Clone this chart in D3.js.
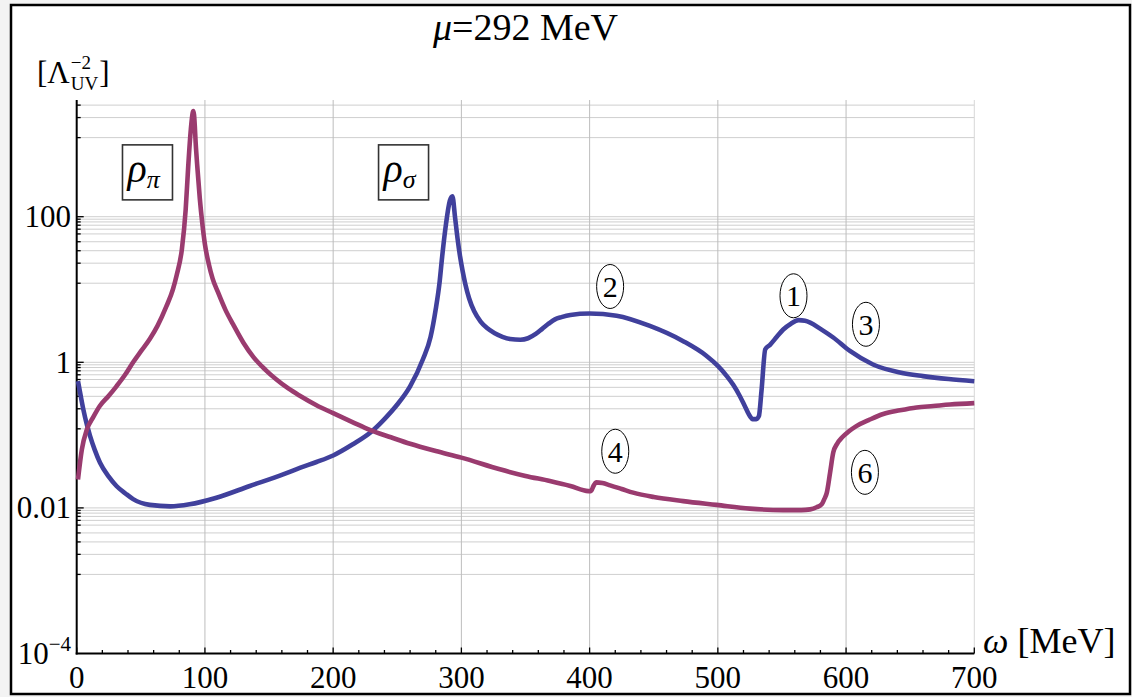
<!DOCTYPE html>
<html>
<head>
<meta charset="utf-8">
<script src="https://cdn.jsdelivr.net/npm/d3@7"></script>
<style>
  html, body { margin: 0; padding: 0; background: #f3f3f3; }
  svg { display: block; }
  text { font-family: "Liberation Serif", "DejaVu Serif", serif; fill: #000; }
</style>
</head>
<body>
<svg id="chart" width="1132" height="697"></svg>
<script>
// Spectral functions at mu = 292 MeV, in units of Lambda_UV^-2
const omegaPi = [1, 4, 8, 13, 18, 25, 31, 38, 44, 50, 57, 63, 70, 75, 78, 82, 85, 87, 89, 90.5, 91, 91.5, 93, 94, 96, 98, 100, 103, 106, 110, 116, 122, 130, 138, 147, 156, 165, 174, 187, 200, 215, 229, 245, 260, 280, 300, 330, 350, 369, 385, 399, 401, 403, 405, 410, 416, 425, 434, 450, 473, 499, 525, 551, 565, 572, 577, 581, 583, 585, 587.5, 590, 593, 597, 602, 608, 618, 629, 642, 655, 668, 681, 700];
const rhoPi = [0.0245, 0.063, 0.12, 0.178, 0.251, 0.347, 0.468, 0.684, 1.0, 1.41, 2.09, 3.16, 5.89, 10.0, 15.8, 35.5, 126, 501, 1585, 2692, 2818, 2512, 891, 501, 178, 79.4, 41.7, 22.4, 14.1, 9.33, 5.25, 3.31, 1.86, 1.17, 0.794, 0.575, 0.437, 0.347, 0.257, 0.2, 0.151, 0.117, 0.0933, 0.0759, 0.0603, 0.049, 0.0339, 0.0275, 0.0234, 0.02, 0.017, 0.017, 0.02, 0.0224, 0.0219, 0.0204, 0.0182, 0.0162, 0.0141, 0.0124, 0.011, 0.00977, 0.00933, 0.00933, 0.00955, 0.0102, 0.0112, 0.0132, 0.0162, 0.0302, 0.0575, 0.0759, 0.0933, 0.112, 0.133, 0.162, 0.195, 0.219, 0.24, 0.251, 0.263, 0.275];

const omegaSigma = [1, 3, 5.2, 8, 10.4, 14, 18.2, 25, 31, 38, 44, 57, 73, 88, 109, 135, 161, 174, 187, 200, 215, 230, 240, 250, 260, 270, 276, 280, 283, 285, 288, 291, 293, 295, 297, 299, 301, 303, 306, 310, 315, 320, 326, 332, 338, 346, 352, 358, 363, 368, 373, 378, 385, 400, 421, 447, 473, 491, 500, 507, 512, 517, 521, 525, 527, 530, 532, 534, 537, 540.7, 546, 551, 557, 563, 568, 572, 580, 590, 603, 621, 642, 660, 680, 700];
const rhoSigma = [0.55, 0.355, 0.224, 0.138, 0.0977, 0.0631, 0.0417, 0.0269, 0.02, 0.0158, 0.0132, 0.011, 0.0105, 0.0112, 0.0138, 0.02, 0.0288, 0.0355, 0.0427, 0.0525, 0.0741, 0.112, 0.166, 0.263, 0.468, 1.1, 2.24, 5.37, 12.6, 28.2, 79.4, 166, 191, 100, 50.1, 28.2, 17.8, 12.0, 7.59, 5.01, 3.63, 2.95, 2.51, 2.24, 2.09, 2.04, 2.14, 2.45, 2.88, 3.39, 3.89, 4.17, 4.47, 4.68, 4.37, 3.16, 1.95, 1.23, 0.891, 0.646, 0.49, 0.347, 0.251, 0.182, 0.166, 0.166, 0.182, 0.398, 1.51, 1.74, 2.24, 2.82, 3.39, 3.8, 3.72, 3.51, 2.88, 2.19, 1.43, 0.933, 0.724, 0.646, 0.589, 0.55];

// Axis ticks and gridlines
const xTicks = [0, 100, 200, 300, 400, 500, 600, 700];
const xMinorTicks = d3.range(0, 701, 20);
const xGridValues = [100, 200, 300, 400, 500, 600, 700];
const yMajorTicks = [100, 1, 0.01, 0.0001];
const yTickLabels = ["100", "1", "0.01", "10−4"];
const gridBandMajors = [10000, 100, 1, 0.01];
const gridBandFactors = [1, 0.924, 0.848, 0.764, 0.674, 0.58, 0.453, 0.341, 0.23, 0.122];

// Peak identifiers and numbered markers
const peakNames = [
  { base: "ρ", sub: "π", omega: 55.2, value: 400 },
  { base: "ρ", sub: "σ", omega: 254.9, value: 400 }
];
const markers = [
  { label: "1", omega: 559, value: 8.2 },
  { label: "2", omega: 416, value: 11 },
  { label: "3", omega: 615.5, value: 3.33 },
  { label: "4", omega: 420, value: 0.06 },
  { label: "6", omega: 614.7, value: 0.0308 }
];

const colorSigma = "#40409c";
const colorPi = "#9a3b6f";

const svg = d3.select("#chart");
const plot = { left: 76.7, right: 974.3, top: 100, bottom: 653.5 };

// frame
svg.append("rect").attr("x", 11).attr("y", 5).attr("width", 1119).attr("height", 689)
  .attr("fill", "#fff").attr("stroke", "#000").attr("stroke-width", 2.5);

const x = d3.scaleLinear().domain([0, 700]).range([plot.left, plot.right]);
const y = d3.scaleLog().domain([1e-4, 1e4]).range([plot.bottom, plot.bottom - 8 * 72.8]);

// horizontal gridlines
const gridY = [];
gridBandMajors.forEach(m => gridBandFactors.forEach(f => {
  const v = m * f;
  if (y(v) >= plot.top - 0.5 && y(v) < plot.bottom - 1) gridY.push(v);
}));
const grid = svg.append("g");
grid.selectAll("line.h").data(gridY).join("line")
  .attr("x1", plot.left).attr("x2", plot.right)
  .attr("y1", d => y(d)).attr("y2", d => y(d))
  .attr("stroke", "#cfcfcf").attr("stroke-width", 1);
grid.selectAll("line.v").data(xGridValues).join("line")
  .attr("x1", d => x(d)).attr("x2", d => x(d))
  .attr("y1", plot.top).attr("y2", plot.bottom)
  .attr("stroke", d => d === 700 ? "#d8d8d8" : "#bdbdbd").attr("stroke-width", 1);

// axes
const axes = svg.append("g");
axes.append("line").attr("x1", plot.left).attr("x2", plot.left)
  .attr("y1", plot.top).attr("y2", plot.bottom + 1).attr("stroke", "#000").attr("stroke-width", 2);
axes.append("line").attr("x1", plot.left - 1).attr("x2", plot.right)
  .attr("y1", plot.bottom).attr("y2", plot.bottom).attr("stroke", "#000").attr("stroke-width", 2);

// y ticks
axes.selectAll("line.ym").data(gridY).join("line")
  .attr("x1", plot.left).attr("x2", d => plot.left + (yMajorTicks.includes(d) ? 7 : 4))
  .attr("y1", d => y(d)).attr("y2", d => y(d)).attr("stroke", "#000").attr("stroke-width", 1.3);
// x ticks
axes.selectAll("line.xm").data(xMinorTicks).join("line")
  .attr("x1", d => x(d)).attr("x2", d => x(d))
  .attr("y1", plot.bottom).attr("y2", d => plot.bottom - (d % 100 === 0 ? 6 : 3.5))
  .attr("stroke", "#000").attr("stroke-width", 1.3);

// x tick labels
axes.selectAll("text.xl").data(xTicks).join("text")
  .attr("x", d => x(d)).attr("y", 688).attr("text-anchor", "middle")
  .attr("font-size", 31).text(d => d);

// y tick labels
yMajorTicks.forEach((v, i) => {
  const lab = yTickLabels[i];
  const t = axes.append("text").attr("x", 71).attr("y", y(v) + 10.5)
    .attr("text-anchor", "end").attr("font-size", 31);
  if (lab.includes("−")) {
    const [b, e] = lab.split("−");
    t.append("tspan").text(b);
    t.append("tspan").attr("font-size", 21).attr("dy", -13).text("−" + e);
  } else {
    t.text(lab);
  }
});

// axis titles
const yt = svg.append("g");
const yl1 = yt.append("text").attr("x", 37).attr("y", 83).attr("font-size", 31).text("[Λ");
const w1 = yl1.node().getComputedTextLength();
const sup = yt.append("text").attr("x", 37 + w1 + 1).attr("y", 69).attr("font-size", 19).text("−2");
const sub = yt.append("text").attr("x", 37 + w1 + 1).attr("y", 90).attr("font-size", 19).text("UV");
const w2 = Math.max(sup.node().getComputedTextLength(), sub.node().getComputedTextLength());
yt.append("text").attr("x", 37 + w1 + w2 + 2).attr("y", 83).attr("font-size", 31).text("]");

const xt = svg.append("text").attr("x", 983).attr("y", 653).attr("font-size", 36);
xt.append("tspan").attr("font-style", "italic").text("ω");
xt.append("tspan").text(" [MeV]");

// title
const title = svg.append("text").attr("x", (plot.left + plot.right) / 2).attr("y", 40)
  .attr("text-anchor", "middle").attr("font-size", 38);
title.append("tspan").attr("font-style", "italic").text("μ");
title.append("tspan").text("=292 MeV");

// curves
const line = d3.line().x(d => x(d[0])).y(d => y(d[1])).curve(d3.curveMonotoneX);
const curves = svg.append("g").attr("fill", "none").attr("stroke-width", 4.6)
  .attr("stroke-linejoin", "round").attr("stroke-linecap", "butt");
curves.append("path").attr("d", line(d3.zip(omegaSigma, rhoSigma))).attr("stroke", colorSigma);
curves.append("path").attr("d", line(d3.zip(omegaPi, rhoPi))).attr("stroke", colorPi);

// boxed peak names
peakNames.forEach(p => {
  const cx = x(p.omega), cy = y(p.value);
  const g = svg.append("g");
  g.append("rect").attr("x", cx - 25).attr("y", cy - 28).attr("width", 50).attr("height", 55)
    .attr("fill", "#fff").attr("stroke", "#333").attr("stroke-width", 1.6);
  const t = g.append("text").attr("x", cx - 20).attr("y", cy + 9).attr("font-size", 40)
    .attr("font-style", "italic");
  t.append("tspan").text(p.base);
  t.append("tspan").attr("font-size", 26).attr("dy", 6).text(p.sub);
});

// numbered markers
markers.forEach(m => {
  const cx = x(m.omega), cy = y(m.value);
  svg.append("ellipse").attr("cx", cx).attr("cy", cy).attr("rx", 13.5).attr("ry", 22)
    .attr("fill", "#fff").attr("stroke", "#000").attr("stroke-width", 1);
  svg.append("text").attr("x", cx).attr("y", cy + 10.5).attr("text-anchor", "middle")
    .attr("font-size", 30).text(m.label);
});
</script>
</body>
</html>
